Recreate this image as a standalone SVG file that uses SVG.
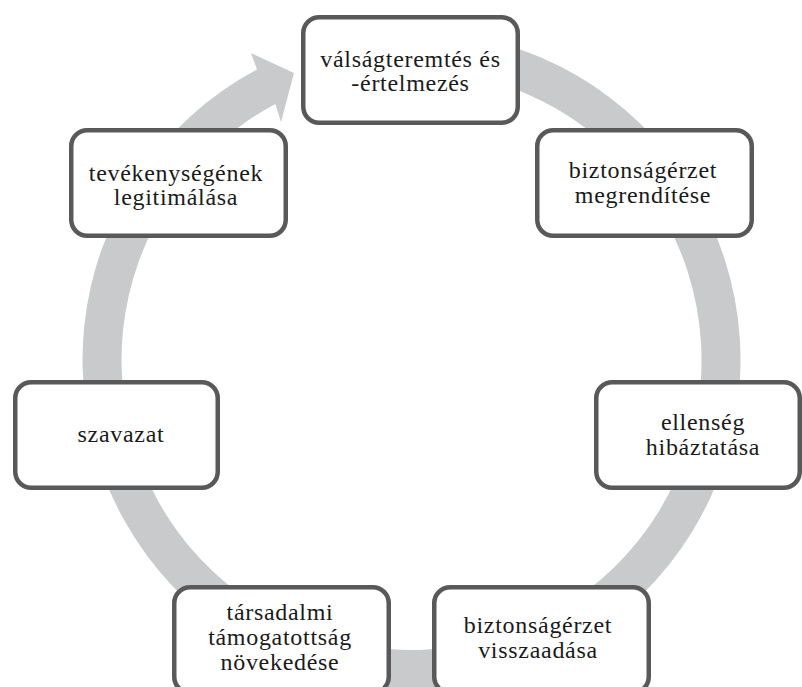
<svg xmlns="http://www.w3.org/2000/svg" width="802" height="687" viewBox="0 0 802 687">
<style>
.box{fill:#ffffff;stroke:#595959;stroke-width:4.5}
.t{font-family:"Liberation Serif","Times New Roman",serif;font-size:24px;letter-spacing:0.7px;fill:#1a1a1a;text-anchor:middle}
.ring{fill:#c9cacc}
</style>
<rect width="802" height="687" fill="#ffffff"/>
<g id="connectors">
<path class="ring" d="M 382.8 32.25 A 329 329 0 1 1 257.04 69.51 L 251 53 L 294 73 L 281 122 L 275.35 103.94 A 290 290 0 1 0 386.2 71.1 Z"/>
</g>
<g id="node1">
<rect class="box" x="303.25" y="17.25" width="214.5" height="105.5" rx="16"/>
<text class="t" x="410.5" y="67">válságteremtés és</text>
<text class="t" x="410.5" y="91">-értelmezés</text>
</g>
<g id="node2">
<rect class="box" x="537.25" y="130.25" width="214.5" height="105.5" rx="16"/>
<text class="t" x="643" y="178">biztonságérzet</text>
<text class="t" x="643" y="203">megrendítése</text>
</g>
<g id="node3">
<rect class="box" x="596.25" y="382.25" width="203.5" height="105.5" rx="16"/>
<text class="t" x="703" y="430">ellenség</text>
<text class="t" x="703" y="455">hibáztatása</text>
</g>
<g id="node4">
<rect class="box" x="434.25" y="587.25" width="214.5" height="105.5" rx="16"/>
<text class="t" x="538" y="633">biztonságérzet</text>
<text class="t" x="538" y="658">visszaadása</text>
</g>
<g id="node5">
<rect class="box" x="174.25" y="587.25" width="214.5" height="105.5" rx="16"/>
<text class="t" x="280" y="620">társadalmi</text>
<text class="t" x="280" y="645">támogatottság</text>
<text class="t" x="280" y="670">növekedése</text>
</g>
<g id="node6">
<rect class="box" x="15.25" y="382.25" width="202.5" height="105.5" rx="16"/>
<text class="t" x="121" y="442">szavazat</text>
</g>
<g id="node7">
<rect class="box" x="71.25" y="130.25" width="214.5" height="105.5" rx="16"/>
<text class="t" x="176" y="181">tevékenységének</text>
<text class="t" x="176" y="205">legitimálása</text>
</g>
</svg>
